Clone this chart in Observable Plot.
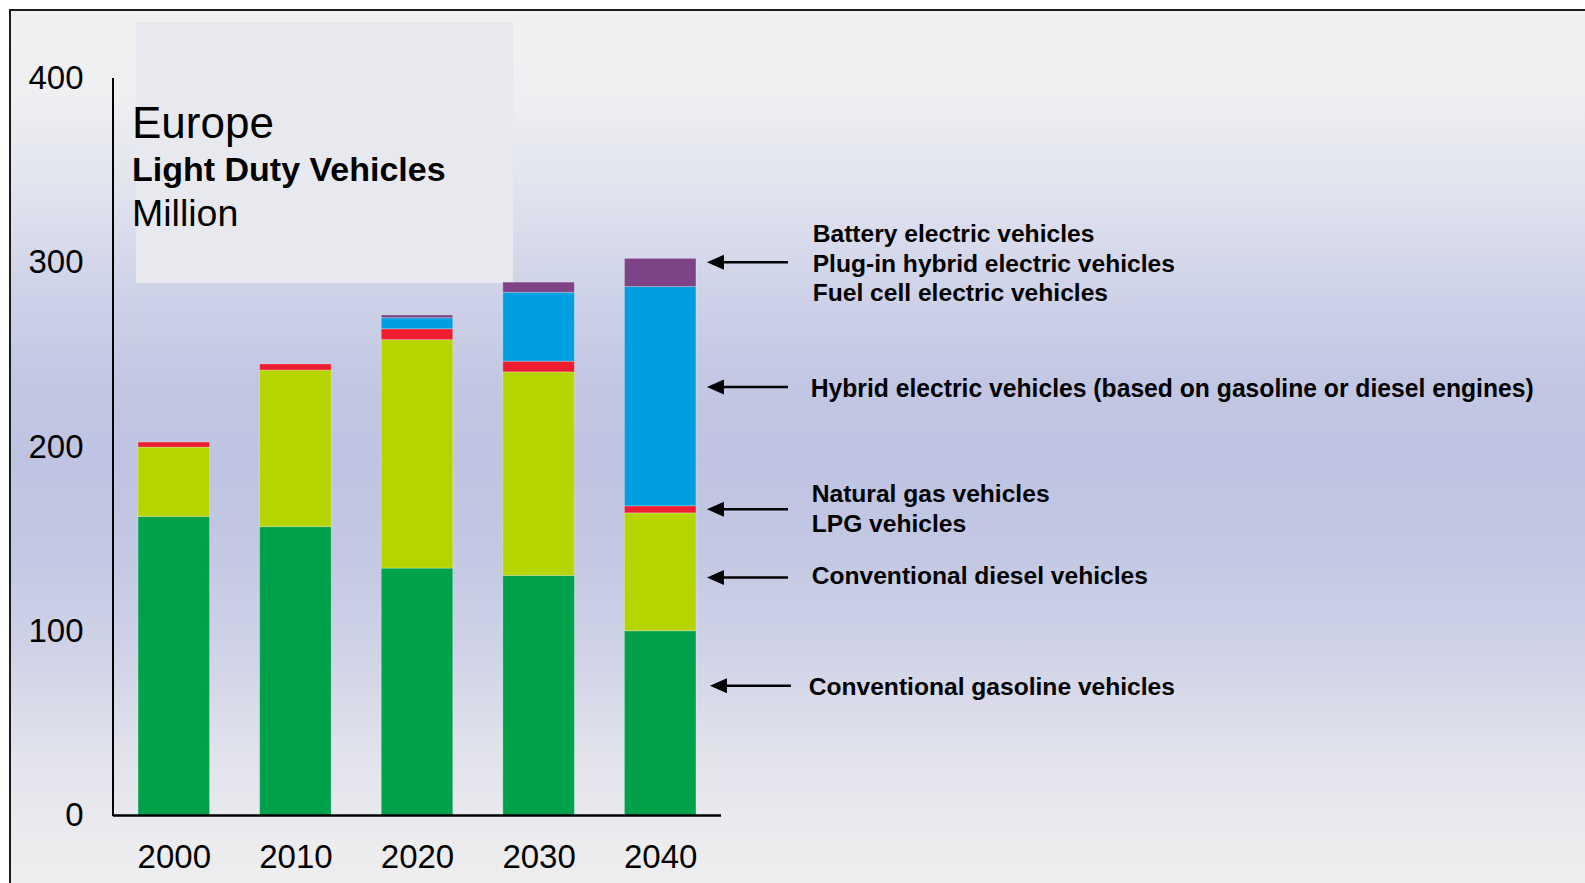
<!DOCTYPE html>
<html>
<head>
<meta charset="utf-8">
<script src="https://cdn.jsdelivr.net/npm/d3@7"></script>
<script src="https://cdn.jsdelivr.net/npm/@observablehq/plot@0.6"></script>
<style>
  html, body { margin: 0; padding: 0; background: #ffffff; overflow: hidden; }
  #stage { position: relative; width: 1585px; height: 883px; overflow: hidden; background: #ffffff; }
  #frame {
    position: absolute; left: 9px; top: 9px; width: 1620px; height: 920px;
    border-top: 2px solid #1c1c1c; border-left: 2px solid #1c1c1c;
    background: linear-gradient(to bottom,
      #F1F1F1 0px, #EEEFF1 90px, #E1E3EE 180px, #CFD3E8 280px,
      #C2C7E3 370px, #BEC4E2 450px, #C3C8E3 540px, #D0D3E7 640px,
      #E1E2EC 740px, #ECECEF 830px, #EFEFF1 900px);
  }
  #titlebox { position: absolute; left: 136px; top: 22px; width: 377px; height: 261px; background: #E8E9EE; }
  .t { position: absolute; left: 132px; font-family: "Liberation Sans", Arial, sans-serif; line-height: 1; white-space: nowrap; color: #000; }
  #chart { position: absolute; left: 0; top: 0; }
</style>
</head>
<body>
<div id="stage">
  <div id="frame"></div>
  <div id="titlebox"></div>
  <div class="t" id="t1" style="top:101px;font-size:44px;">Europe</div>
  <div class="t" id="t2" style="top:152px;font-size:34px;font-weight:bold;">Light Duty Vehicles</div>
  <div class="t" id="t3" style="top:195px;font-size:37.5px;">Million</div>
  <div id="chart"></div>
</div>
<script>
// ---- data ----
const years = ["2000", "2010", "2020", "2030", "2040"];
const seriesNames = [
  "Conventional gasoline vehicles",
  "Conventional diesel vehicles",
  "Natural gas / LPG vehicles",
  "Hybrid electric vehicles",
  "Battery / plug-in hybrid / fuel cell electric vehicles"
];
const gasoline = [162, 156.5, 134, 130, 100];
const diesel   = [37.7, 85, 124, 110.5, 64];
const gasLpg   = [2.7, 3.3, 5.9, 5.8, 3.8];
const hybrid   = [0, 0, 6, 37.4, 119];
const electric = [0, 0, 1.5, 5.5, 15.3];
const seriesColors = ["#00A14B", "#B5D400", "#EE1D2F", "#009FE0", "#7E4387"];
const yTicks = [0, 100, 200, 300, 400];

// annotation labels (y in data units)
const noteLabels = [
  "Battery electric vehicles",
  "Plug-in hybrid electric vehicles",
  "Fuel cell electric vehicles",
  "Hybrid electric vehicles (based on gasoline or diesel engines)",
  "Natural gas vehicles",
  "LPG vehicles",
  "Conventional diesel vehicles",
  "Conventional gasoline vehicles"
];
const noteY = [315.4, 299.1, 283.7, 231.7, 174.2, 158.3, 129.7, 69.7];
const arrowY = [300, 232.3, 166, 128.9, 70.1];

// ---- build table ----
const seriesValues = [gasoline, diesel, gasLpg, hybrid, electric];
const rows = [];
years.forEach((yr, i) => {
  seriesNames.forEach((s, j) => rows.push({year: yr, series: s, value: seriesValues[j][i]}));
});
const notes = noteLabels.map((label, i) => ({label, y: noteY[i], year: years[years.length - 1]}));
const noteDx = [152, 152, 152, 150, 151, 151, 151, 148];

function arrowsMark(index, scales, values, dimensions) {
  const ns = "http://www.w3.org/2000/svg";
  const g = document.createElementNS(ns, "g");
  const x = scales.x, y = scales.y;
  let bw = (x && typeof x.bandwidth === "function") ? x.bandwidth() : 0;
  const last = years[years.length - 1];
  const right = x(last) + bw;
  // y axis line
  const ax = document.createElementNS(ns, "line");
  ax.setAttribute("x1", dimensions.marginLeft); ax.setAttribute("x2", dimensions.marginLeft);
  ax.setAttribute("y1", y(400)); ax.setAttribute("y2", y(0) + 1);
  ax.setAttribute("stroke", "#000"); ax.setAttribute("stroke-width", 2);
  g.appendChild(ax);
  arrowY.forEach((v, i) => {
    const off = i === arrowY.length - 1 ? 3 : 0;
    const tip = right + 11 + off, tail = right + 92 + off, yy = y(v);
    const l = document.createElementNS(ns, "line");
    l.setAttribute("x1", tip + 12); l.setAttribute("x2", tail);
    l.setAttribute("y1", yy); l.setAttribute("y2", yy);
    l.setAttribute("stroke", "#000"); l.setAttribute("stroke-width", 2.5);
    g.appendChild(l);
    const p = document.createElementNS(ns, "path");
    p.setAttribute("d", `M${tip},${yy}L${tip + 17},${yy - 7.5}L${tip + 17},${yy + 7.5}Z`);
    p.setAttribute("fill", "#000");
    g.appendChild(p);
  });
  return g;
}

const chart = Plot.plot({
  width: 1585,
  height: 883,
  marginLeft: 113,
  marginRight: 864,
  marginTop: 78,
  marginBottom: 68,
  style: {
    background: "transparent",
    fontFamily: "'Liberation Sans', Arial, sans-serif",
    fontSize: "33px",
    color: "#000",
    overflow: "visible"
  },
  x: {domain: years, paddingInner: 0.412, paddingOuter: 0.206, round: false, tickSize: 0, tickPadding: 29, label: null},
  y: {domain: [0, 400], ticks: yTicks, tickSize: 0, tickPadding: 30, label: null},
  color: {domain: seriesNames, range: seriesColors},
  marks: [
    Plot.barY(rows, {x: "year", y: "value", fill: "series", stroke: "#ffffff", strokeOpacity: 0.25, strokeWidth: 1}),
    Plot.ruleY([0], {stroke: "#000", strokeWidth: 2.5}),
    arrowsMark,
    ...notes.map((n, i) => Plot.text([n], {
      x: "year", y: "y", text: "label", textAnchor: "start", lineAnchor: "middle",
      dx: noteDx[i], fontSize: 24.6, fontWeight: "bold", fill: "#000",
      fontFamily: i === 3 ? "'Liberation Sans Narrow', 'Liberation Sans', Arial, sans-serif" : "'Liberation Sans', Arial, sans-serif"
    }))
  ]
});

document.getElementById("chart").appendChild(chart);
// condensed hybrid label width
chart.querySelectorAll("text").forEach(t => {
  if (t.textContent.startsWith("Hybrid electric vehicles (")) {
    t.setAttribute("textLength", 723);
    t.setAttribute("lengthAdjust", "spacingAndGlyphs");
    t.setAttribute("font-size", 25);
  }
});
</script>
</body>
</html>
